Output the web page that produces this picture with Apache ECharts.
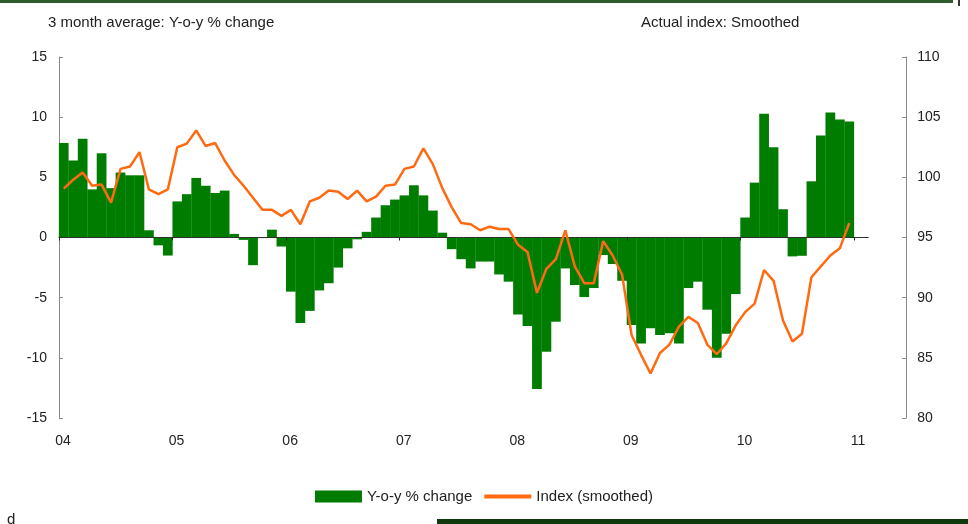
<!DOCTYPE html>
<html><head><meta charset="utf-8">
<script src="https://cdn.jsdelivr.net/npm/echarts@6/dist/echarts.min.js"></script>
<style>html,body{margin:0;padding:0;background:#fff}#c{width:968px;height:524px}</style>
</head><body><div id="c"></div>
<script>
// Year tick labels (one per January, 2004..2011)
const yearLabels = ['04','05','06','07','08','09','10','11'];
const monthsPerYear = 12;

// 3 month average: Y-o-y % change (monthly, Jan 2004 - Dec 2010)
const yoyChange = [
  7.85, 6.4, 8.2, 4.0, 7.0, 4.1, 5.4, 5.17, 5.17, 0.6, -0.65, -1.5,
  3.0, 3.6, 4.95, 4.3, 3.7, 3.9, 0.3, -0.2, -2.3, -0.05, 0.65, -0.75,
  -4.5, -7.1, -6.1, -4.4, -3.8, -2.5, -0.9, -0.15, 0.47, 1.66, 2.68, 3.15,
  3.5, 4.34, 3.5, 2.24, 0.4, -0.97, -1.8, -2.57, -2.0, -2.0, -3.07, -3.67,
  -6.4, -7.35, -12.6, -9.5, -7.0, -2.57, -3.95, -4.95, -4.2, -1.46, -2.2, -3.6,
  -7.27, -8.8, -7.54, -8.1, -7.96, -8.8, -4.2, -3.67, -6.0, -10.0, -8.0, -4.7,
  1.66, 4.56, 10.28, 7.5, 2.35, -1.57, -1.52, 4.67, 8.48, 10.39, 9.8, 9.64
];

// Actual index, smoothed (right axis)
const indexSmoothed = [
  99.06, 99.8, 100.4, 99.3, 99.4, 97.9, 100.7, 100.9, 102.1, 99.0, 98.6, 99.0,
  102.5, 102.8, 103.9, 102.6, 102.85, 101.4, 100.2, 99.3, 98.3, 97.3, 97.3, 96.8,
  97.3, 96.1, 98.0, 98.3, 98.9, 98.8, 98.2, 98.9, 98.0, 98.4, 99.3, 99.4,
  100.7, 100.9, 102.4, 101.1, 99.1, 97.5, 96.2, 96.1, 95.6, 95.9, 95.7, 95.7,
  94.4, 93.8, 90.4, 92.4, 93.2, 95.6, 92.6, 91.2, 91.2, 94.7, 93.5, 91.9,
  86.9, 85.25, 83.7, 85.4, 86.1, 87.6, 88.4, 87.9, 86.1, 85.3, 86.2, 87.7,
  88.8, 89.5, 92.3, 91.4, 88.1, 86.35, 87.0, 91.7, 92.6, 93.5, 94.1, 96.2
];

const seriesNames = ['Y-o-y % change', 'Index (smoothed)'];
const leftTitle = '3 month average: Y-o-y % change';
const rightTitle = 'Actual index: Smoothed';

const FONT = "'Liberation Sans', Arial, sans-serif";
const GREEN = '#007d00';
const ORANGE = '#ff6a10';
const AXIS_GRAY = '#8a8a8a';
const TEXT = '#222';

const nMonths = yoyChange.length;
const xMax = nMonths + 1.5;
const pxPerMonth = 795 / nMonths;
const tickValues = yearLabels.map((_, i) => i * monthsPerYear);

const chart = echarts.init(document.getElementById('c'), null, {renderer: 'canvas'});
chart.setOption({
  animation: false,
  backgroundColor: '#fff',
  textStyle: {fontFamily: FONT},
  grid: {left: 59, top: 57, width: xMax * pxPerMonth, height: 361, containLabel: false},
  legend: {
    top: 484, left: 'center',
    itemWidth: 47, itemHeight: 12, itemGap: 10,
    textStyle: {fontSize: 15, color: TEXT, fontFamily: FONT},
    data: [
      {name: seriesNames[0], icon: 'rect'},
      {name: seriesNames[1], lineStyle: {width: 4}, itemStyle: {opacity: 0}}
    ]
  },
  xAxis: [
    {
      type: 'value', min: 0, max: xMax, position: 'bottom',
      axisLine: {show: false, onZero: false},
      axisTick: {show: false},
      splitLine: {show: false},
      axisLabel: {
        customValues: tickValues,
        formatter: v => yearLabels[Math.round(v / monthsPerYear)],
        margin: 16, fontSize: 14, color: TEXT, fontFamily: FONT, padding: [0, 0, 0, 8]
      }
    },
    {
      type: 'value', min: 0, max: xMax, position: 'top', z: 5,
      axisLine: {show: true, onZero: true, onZeroAxisIndex: 0, lineStyle: {color: '#2b332b', width: 1}},
      axisTick: {show: true, inside: true, length: 3, customValues: tickValues, lineStyle: {color: '#222'}},
      axisLabel: {show: false},
      splitLine: {show: false}
    }
  ],
  yAxis: [
    {
      type: 'value', min: -15, max: 15, interval: 5, position: 'left',
      axisLine: {show: true, onZero: false, lineStyle: {color: AXIS_GRAY}},
      axisTick: {show: true, inside: true, length: 4, lineStyle: {color: AXIS_GRAY}},
      axisLabel: {margin: 12, fontSize: 14, color: TEXT, fontFamily: FONT},
      splitLine: {show: false}
    },
    {
      type: 'value', min: 80, max: 110, interval: 5, position: 'right', offset: 38,
      axisLine: {show: true, onZero: false, lineStyle: {color: AXIS_GRAY}},
      axisTick: {show: true, inside: true, length: 4, lineStyle: {color: AXIS_GRAY}},
      axisLabel: {margin: 11, fontSize: 14, color: TEXT, fontFamily: FONT},
      splitLine: {show: false}
    }
  ],
  series: [
    {
      name: seriesNames[0], type: 'bar', xAxisIndex: 0, yAxisIndex: 0,
      data: yoyChange.map((v, i) => [i + 0.5, v]),
      barWidth: '103%',
      itemStyle: {color: GREEN},
      emphasis: {disabled: true}, z: 2
    },
    {
      name: seriesNames[1], type: 'line', xAxisIndex: 0, yAxisIndex: 1,
      data: indexSmoothed.map((v, i) => [i + 0.5, v]),
      symbol: 'none', showSymbol: false,
      lineStyle: {color: ORANGE, width: 2.5},
      itemStyle: {color: ORANGE},
      emphasis: {disabled: true}, z: 10
    }
  ],
  graphic: [
    {type: 'rect', shape: {x: 0, y: 0, width: 953, height: 3}, style: {fill: '#2f5a2a'}, silent: true},
    {type: 'rect', shape: {x: 958, y: 0, width: 2, height: 6}, style: {fill: '#333'}, silent: true},
    {type: 'rect', shape: {x: 437, y: 519, width: 531, height: 5}, style: {fill: '#0e3a0e'}, silent: true},
    {type: 'text', left: 48, top: 15, style: {text: leftTitle, font: '15px ' + FONT, fill: TEXT}, silent: true},
    {type: 'text', left: 641, top: 15, style: {text: rightTitle, font: '15px ' + FONT, fill: TEXT}, silent: true},
    {type: 'text', left: 7, top: 512, style: {text: 'd', font: '15px ' + FONT, fill: TEXT}, silent: true}
  ]
});
</script>
</body></html>
